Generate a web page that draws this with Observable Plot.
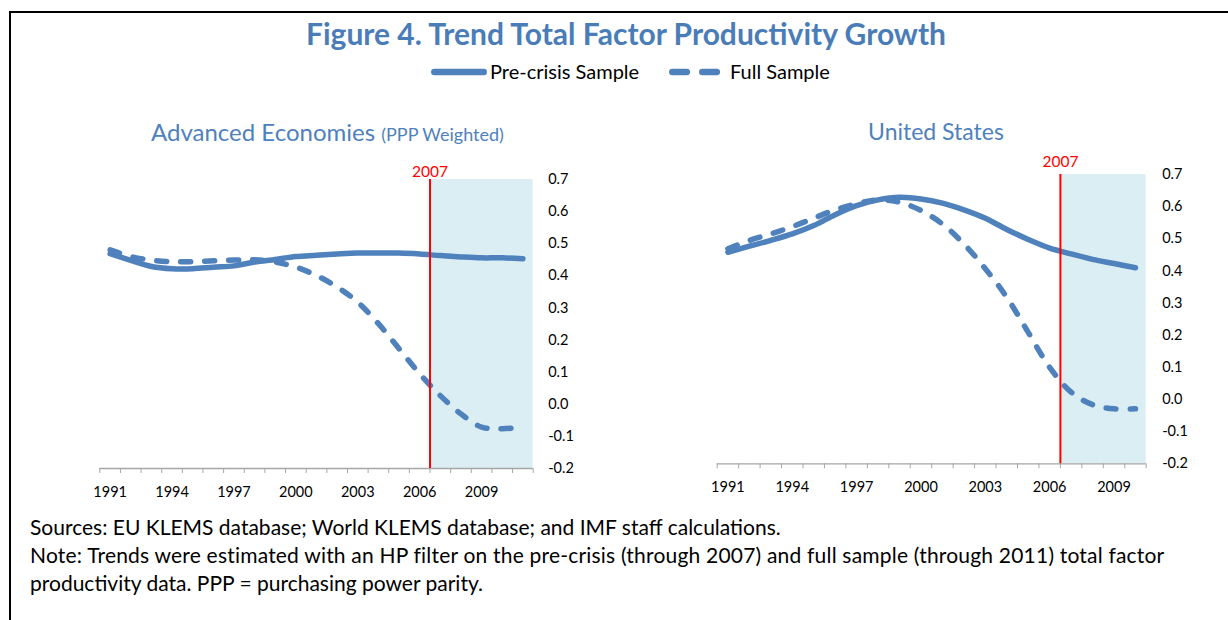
<!DOCTYPE html>
<html>
<head>
<meta charset="utf-8">
<script src="https://cdn.jsdelivr.net/npm/d3@7"></script>
<script src="https://cdn.jsdelivr.net/npm/@observablehq/plot@0.6"></script>
<style>
  html, body { margin: 0; padding: 0; background: #fff; }
  #wrap { position: relative; width: 1228px; height: 620px; overflow: hidden; font-family: Lato, "Open Sans", sans-serif; background: #fff; }
  .abs { position: absolute; white-space: nowrap; }
  #frameTop { position: absolute; left: 9px; top: 11px; width: 1219px; height: 2px; background: #000; }
  #frameLeft { position: absolute; left: 9px; top: 11px; width: 2px; height: 609px; background: #000; }
  #title { left: 626px; top: 16px; transform: translateX(-50%); font-size: 30px; font-weight: 700; color: #4a7db7; line-height: 34px; }
  .sub { color: #4f81bd; font-size: 24px; line-height: 26px; }
  .foot { left: 30px; font-size: 21px; color: #000; line-height: 24px; }
  .plot { position: absolute; }
</style>
</head>
<body>
<div id="wrap">
  <div id="frameTop"></div>
  <div id="frameLeft"></div>
  <div id="title" class="abs">Figure 4. Trend Total Factor Productivity Growth</div>
  <div id="legend" class="abs" style="left:0;top:58px;width:1228px;height:30px;"></div>
  <div class="abs sub" style="left:151px;top:119px;">Advanced Economies <span style="font-size:18px;">(PPP Weighted)</span></div>
  <div class="abs sub" style="left:936px;top:118px;font-size:23px;transform:translateX(-50%);">United States</div>
  <div id="left" class="plot" style="left:40px;top:140px;"></div>
  <div id="right" class="plot" style="left:660px;top:130px;"></div>
  <div class="abs foot" style="top:515px;">Sources: EU KLEMS database; World KLEMS database; and IMF staff calculations.</div>
  <div class="abs foot" style="top:543px;letter-spacing:0.2px;">Note: Trends were estimated with an HP filter on the pre-crisis (through 2007) and full sample (through 2011) total factor</div>
  <div class="abs foot" style="top:571px;">productivity data. PPP = purchasing power parity.</div>
</div>
<script>
// ---- Data ----
const aeYears = [1991,1992,1993,1994,1995,1996,1997,1998,1999,2000,2001,2002,2003,2004,2005,2006,2007,2008,2009,2010,2011];
const aePre  = [0.469,0.448,0.429,0.422,0.422,0.427,0.431,0.443,0.451,0.460,0.464,0.468,0.471,0.471,0.471,0.468,0.463,0.459,0.456,0.456,0.453];
const aeFull = [0.481,0.460,0.449,0.444,0.444,0.447,0.449,0.450,0.443,0.427,0.401,0.365,0.318,0.251,0.173,0.095,0.027,-0.030,-0.071,-0.076,-0.071];

const usYears = [1991,1992,1993,1994,1995,1996,1997,1998,1999,2000,2001,2002,2003,2004,2005,2006,2007,2008,2009,2010];
const usPre  = [0.458,0.477,0.495,0.515,0.541,0.575,0.603,0.621,0.629,0.624,0.611,0.590,0.564,0.529,0.498,0.471,0.453,0.436,0.423,0.410];
const usFull = [0.469,0.495,0.515,0.538,0.564,0.590,0.609,0.621,0.614,0.588,0.546,0.484,0.407,0.318,0.209,0.100,0.023,-0.016,-0.029,-0.029];

const xLabelYears = [1991,1994,1997,2000,2003,2006,2009];
const yTicks = [-0.2,-0.1,0.0,0.1,0.2,0.3,0.4,0.5,0.6,0.7];
const crisisLabel = "2007";
const crisisYear = 2007;
const seriesNames = ["Pre-crisis Sample","Full Sample"];

const blue = "#4f81bd";
const shade = "#dbeef4";

function panel(years, pre, full, opts) {
  const first = years[0], last = years[years.length-1];
  const bounds = d3.range(first - 0.5, last + 1, 1);
  const rows = years.map((y,i) => ({year: y, pre: pre[i], full: full[i]}));
  return Plot.plot({
    width: opts.width, height: opts.height,
    marginLeft: opts.ml, marginRight: opts.mr, marginTop: opts.mt, marginBottom: opts.mb,
    style: {fontFamily: "Lato, 'Open Sans', sans-serif", fontSize: "14.5px", overflow: "visible", background: "transparent"},
    x: {domain: [first - 0.5, last + 0.5]},
    y: {domain: [-0.2, 0.7]},
    marks: [
      Plot.rect([{x1: crisisYear - 0.5, x2: last + 0.5}], {x1: "x1", x2: "x2", y1: () => -0.2, y2: () => 0.7, fill: shade}),
      Plot.ruleY([-0.2], {stroke: "#a6a6a6", strokeWidth: 1.3}),
      Plot.axisX({ticks: bounds, tickSize: 5, tickFormat: () => "", stroke: "#a6a6a6", label: null}),
      Plot.axisX({ticks: xLabelYears, tickSize: 0, tickPadding: opts.xpad, tickFormat: d => String(d), fill: "#000", fontSize: 14.5, label: null}),
      Plot.axisY({anchor: "right", ticks: yTicks, tickSize: 0, tickPadding: opts.ypad, tickFormat: d => d.toFixed(1), fill: "#000", fontSize: 14.5, label: null}),
      Plot.line(rows, {x: "year", y: "pre", stroke: blue, strokeWidth: 5.5, curve: "catmull-rom", strokeLinecap: "round", strokeLinejoin: "round"}),
      Plot.line(rows, {x: "year", y: "full", stroke: blue, strokeWidth: 5.5, curve: "catmull-rom", strokeLinecap: "round", strokeDasharray: "10,14"}),
      Plot.ruleX([crisisYear - 0.5], {stroke: "#ff0000", strokeWidth: 2}),
      Plot.text([crisisLabel], {x: () => crisisYear - 0.5, frameAnchor: "top", lineAnchor: "middle", dy: opts.labdy, text: d => d, fill: "#ff0000", fontSize: 15.5})
    ]
  });
}

document.getElementById("left").appendChild(panel(aeYears, aePre, aeFull,
  {width: 560, height: 370, ml: 59.3, mr: 67.3, mt: 39, mb: 42, xpad: 18, ypad: 15, labdy: -7.5}));
document.getElementById("right").appendChild(panel(usYears, usPre, usFull,
  {width: 560, height: 370, ml: 56.7, mr: 74.3, mt: 44, mb: 36.7, xpad: 18, ypad: 16, labdy: -12}));

// ---- Legend ----
const leg = d3.select("#legend").append("svg").attr("width", 1228).attr("height", 30);
const items = [
  {name: seriesNames[0], x1: 434.3, x2: 483.7, tx: 490, dash: null},
  {name: seriesNames[1], x1: 672.3, x2: 716.8, tx: 730, dash: "14.5,15.5"}
];
items.forEach(it => {
  leg.append("line").attr("x1", it.x1).attr("x2", it.x2).attr("y1", 14).attr("y2", 14)
    .attr("stroke", blue).attr("stroke-width", 6.5).attr("stroke-linecap", "round")
    .attr("stroke-dasharray", it.dash);
  leg.append("text").attr("x", it.tx).attr("y", 14).attr("dy", "0.35em")
    .attr("font-family", "Lato, 'Open Sans', sans-serif").attr("font-size", 20).attr("fill", "#000").text(it.name);
});
</script>
</body>
</html>
